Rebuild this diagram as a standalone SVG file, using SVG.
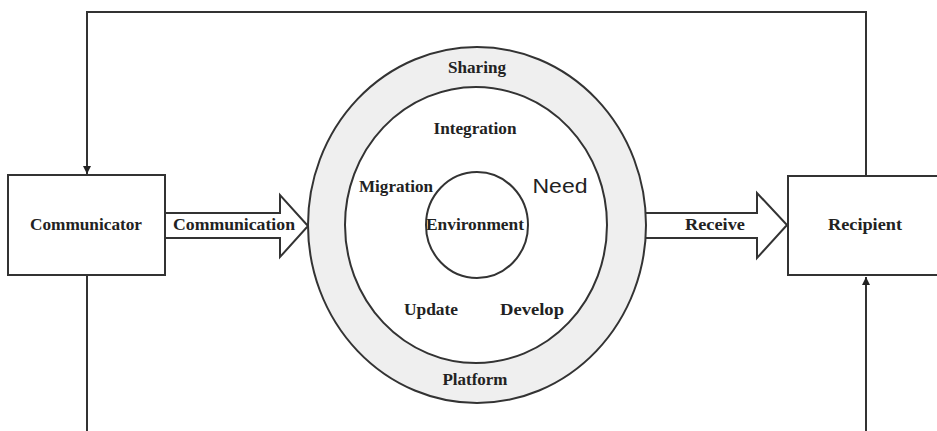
<svg xmlns="http://www.w3.org/2000/svg" width="937" height="431" viewBox="0 0 937 431">
<defs>
<style>
.ln{fill:none;stroke:#333;stroke-width:2}
.box{fill:#fff;stroke:#333;stroke-width:2}
.t{font-family:"Liberation Serif","Times New Roman",serif;font-weight:bold;font-size:16px;fill:#222;text-anchor:middle}
.s{font-family:"Liberation Sans",Arial,sans-serif;font-size:20px;fill:#222;text-anchor:middle}
</style>
<marker id="ah" viewBox="0 0 10 10" refX="10" refY="5" markerWidth="4" markerHeight="4" orient="auto" markerUnits="strokeWidth">
<path d="M0,0 L10,5 L0,10 z" fill="#222"/>
</marker>
</defs>
<rect width="937" height="431" fill="#fff"/>
<g id="connectors">
<polyline class="ln" points="866,176 866,12 87,12 87,174" marker-end="url(#ah)"/>
<line class="ln" x1="87" y1="275" x2="87" y2="431"/>
<line class="ln" x1="866" y1="431" x2="866" y2="277" marker-end="url(#ah)"/>
<path id="arrow-communication" class="box" d="M165,213 L280,213 L280,195 L308,226 L280,257 L280,238 L165,238 z"/>
<path id="arrow-receive" class="box" d="M643,213 L757,213 L757,193 L787,225 L757,258 L757,238 L643,238 z"/>
</g>
<g id="communicator">
<rect class="box" x="8" y="175" width="157" height="100"/>
<text class="t" x="86" y="230" textLength="112" lengthAdjust="spacingAndGlyphs">Communicator</text>
</g>
<g id="recipient">
<rect class="box" x="788" y="176" width="160" height="99"/>
<text class="t" x="865" y="230" textLength="74" lengthAdjust="spacingAndGlyphs">Recipient</text>
</g>
<g id="center">
<ellipse cx="477" cy="225" rx="169" ry="178" fill="#efefef" stroke="#333" stroke-width="2"/>
<ellipse cx="476" cy="225" rx="131" ry="138" fill="#fff" stroke="#333" stroke-width="2"/>
<ellipse cx="477" cy="225" rx="51" ry="53" fill="#fff" stroke="#333" stroke-width="2"/>
<text class="t" x="477" y="73" textLength="58" lengthAdjust="spacingAndGlyphs">Sharing</text>
<text class="t" x="475" y="134" textLength="83" lengthAdjust="spacingAndGlyphs">Integration</text>
<text class="t" x="396" y="192" textLength="74" lengthAdjust="spacingAndGlyphs">Migration</text>
<text class="s" x="560" y="193" textLength="55" lengthAdjust="spacingAndGlyphs">Need</text>
<text class="t" x="475" y="230" textLength="98" lengthAdjust="spacingAndGlyphs">Environment</text>
<text class="t" x="431" y="315" textLength="54" lengthAdjust="spacingAndGlyphs">Update</text>
<text class="t" x="532" y="315" textLength="64" lengthAdjust="spacingAndGlyphs">Develop</text>
<text class="t" x="475" y="385" textLength="65" lengthAdjust="spacingAndGlyphs">Platform</text>
</g>
<g id="labels">
<text class="t" x="234" y="230" textLength="122" lengthAdjust="spacingAndGlyphs">Communication</text>
<text class="t" x="715" y="230" textLength="60" lengthAdjust="spacingAndGlyphs">Receive</text>
</g>
</svg>
